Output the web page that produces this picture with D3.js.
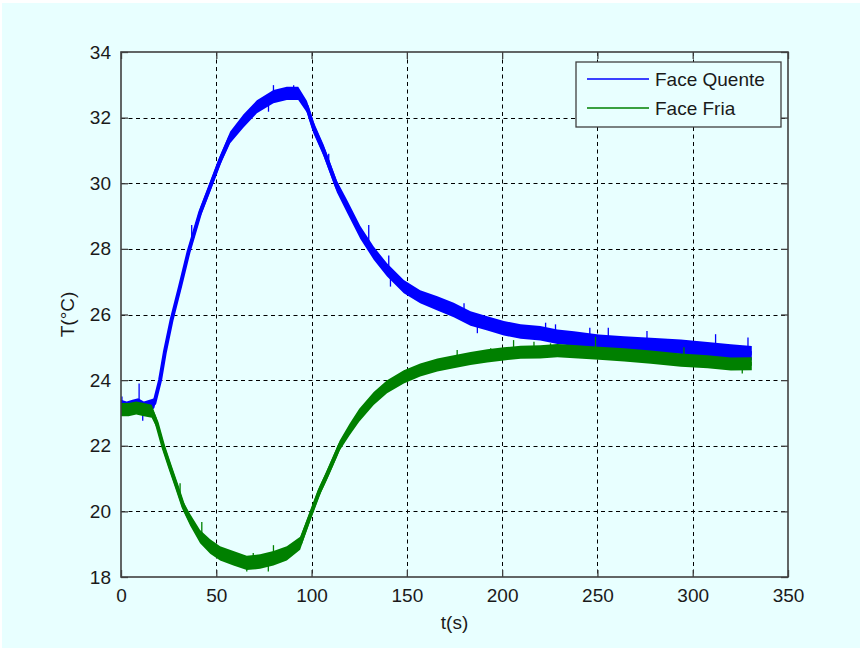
<!DOCTYPE html>
<html>
<head>
<meta charset="utf-8">
<script src="https://cdn.jsdelivr.net/npm/d3@7"></script>
<style>
  html, body { margin: 0; padding: 0; background: #ffffff; }
  svg { display: block; }
  text { font-family: "Liberation Sans", Arial, sans-serif; fill: #1a1a1a; }
</style>
</head>
<body>
<script>
// ---------- data ----------
const xTicks = [0, 50, 100, 150, 200, 250, 300, 350];
const yTicks = [18, 20, 22, 24, 26, 28, 30, 32, 34];
const seriesNames = ["Face Quente", "Face Fria"];

// Face Quente (blue): time (s), temperature (°C), half-width of noise band (°C)
const timeQ = [0, 3, 6, 9, 12, 15, 17.5, 20.5, 23, 26.6, 31, 35.4, 41.5, 46.8, 52, 57.3, 64.3, 71.3, 80, 87, 93, 97.6, 101, 106.3, 113.3, 118.6, 125.6, 132.6, 139.6, 148.4, 157, 166, 174.6, 183.4, 192.2, 200.9, 209.7, 220, 229, 237.7, 250.8, 264, 278, 293.8, 307.8, 320, 331];
const quente = [23.2, 23.15, 23.2, 23.25, 23.15, 23.2, 23.3, 24.0, 24.85, 25.85, 26.85, 27.9, 29.1, 29.9, 30.7, 31.4, 31.9, 32.33, 32.64, 32.74, 32.74, 32.33, 31.7, 31.0, 29.9, 29.3, 28.5, 27.87, 27.36, 26.85, 26.54, 26.34, 26.14, 25.88, 25.73, 25.58, 25.48, 25.43, 25.32, 25.27, 25.17, 25.12, 25.07, 25.02, 24.94, 24.87, 24.82];
const noiseQ = [0.2, 0.2, 0.2, 0.2, 0.2, 0.2, 0.15, 0.15, 0.15, 0.15, 0.15, 0.15, 0.15, 0.15, 0.15, 0.18, 0.2, 0.2, 0.2, 0.2, 0.2, 0.18, 0.18, 0.18, 0.18, 0.2, 0.2, 0.2, 0.2, 0.2, 0.2, 0.22, 0.22, 0.22, 0.22, 0.22, 0.22, 0.22, 0.22, 0.22, 0.22, 0.22, 0.22, 0.22, 0.22, 0.22, 0.22];
// visible spikes of the blue trace: time, peak value
const spikeQt = [0.5, 9.5, 11.4, 37.1, 77.4, 80, 90.6, 109, 130, 140.5, 141.4, 180, 187, 222.8, 228, 246, 255.7, 276, 312, 329];
const spikeQv = [23.5, 23.9, 22.76, 28.73, 32.18, 32.99, 32.99, 30.9, 28.73, 27.8, 26.85, 26.34, 25.43, 25.75, 25.7, 25.6, 25.6, 25.5, 25.4, 25.3];

// Face Fria (green)
const timeF = [0, 4, 8, 12, 16.1, 18.7, 22.2, 25.7, 29.3, 32.8, 36.3, 41.5, 46.8, 52, 59, 66, 73, 80, 87, 94, 99.5, 104, 108, 112.5, 114.7, 120, 125, 132.6, 139.6, 148.4, 157, 166, 174.6, 183.4, 192.2, 200.9, 209.7, 220, 229, 237.7, 250.8, 264, 278, 293.8, 307.8, 320, 331];
const fria = [23.1, 23.1, 23.15, 23.1, 23.05, 22.7, 21.97, 21.36, 20.75, 20.14, 19.74, 19.23, 18.93, 18.72, 18.57, 18.43, 18.47, 18.57, 18.72, 19.03, 19.9, 20.6, 21.1, 21.7, 22.0, 22.5, 22.93, 23.44, 23.8, 24.1, 24.31, 24.46, 24.56, 24.66, 24.74, 24.8, 24.85, 24.86, 24.9, 24.87, 24.82, 24.77, 24.7, 24.61, 24.56, 24.49, 24.5];
const noiseF = [0.2, 0.2, 0.2, 0.2, 0.2, 0.15, 0.15, 0.15, 0.15, 0.15, 0.18, 0.2, 0.22, 0.22, 0.22, 0.22, 0.22, 0.22, 0.22, 0.2, 0.15, 0.15, 0.15, 0.15, 0.15, 0.18, 0.2, 0.2, 0.2, 0.2, 0.2, 0.2, 0.2, 0.2, 0.2, 0.2, 0.2, 0.2, 0.2, 0.2, 0.2, 0.2, 0.2, 0.2, 0.2, 0.2, 0.2];
const spikeFt = [31, 42.4, 66, 69.4, 77.3, 80, 176.4, 194, 206, 216.7, 225.4, 249, 295.4, 326];
const spikeFv = [20.86, 19.68, 18.17, 18.73, 18.17, 18.97, 24.92, 24.97, 25.22, 25.17, 25.12, 25.32, 25.0, 24.2];

// ---------- layout ----------
const W = 860, H = 648;
const plot = { left: 121, right: 788, top: 52, bottom: 577 };
const colQ = "#0000ff", colF = "#008000";
const axisCol = "#404040";

const svg = d3.select("body").append("svg").attr("width", W).attr("height", H);
svg.append("rect").attr("x", 2).attr("y", 3).attr("width", W - 2).attr("height", H - 3).attr("fill", "#e8ffff");

const x = d3.scaleLinear().domain([0, 350]).range([plot.left, plot.right]);
const y = d3.scaleLinear().domain([18, 34]).range([plot.bottom, plot.top]);

// grid
const grid = svg.append("g").attr("stroke", "#000").attr("stroke-width", 1).attr("stroke-dasharray", "4,3.5");
grid.selectAll(".gx").data(xTicks.slice(1, -1)).enter().append("line")
  .attr("x1", d => Math.round(x(d)) + 0.5).attr("x2", d => Math.round(x(d)) + 0.5)
  .attr("y1", plot.top).attr("y2", plot.bottom);
grid.selectAll(".gy").data(yTicks.slice(1, -1)).enter().append("line")
  .attr("y1", d => Math.round(y(d)) + 0.5).attr("y2", d => Math.round(y(d)) + 0.5)
  .attr("x1", plot.left).attr("x2", plot.right);

// clip
svg.append("clipPath").attr("id", "clip").append("rect")
  .attr("x", plot.left).attr("y", plot.top).attr("width", plot.right - plot.left).attr("height", plot.bottom - plot.top);
const dataG = svg.append("g").attr("clip-path", "url(#clip)");

function drawSeries(times, vals, noise, sT, sV, color) {
  const pts = times.map((t, i) => ({ t, v: vals[i], n: noise[i] }));
  const area = d3.area().x(d => x(d.t)).y0(d => y(d.v - d.n)).y1(d => y(d.v + d.n));
  dataG.append("path").datum(pts).attr("d", area).attr("fill", color);
  const line = d3.line().x(d => x(d.t)).y(d => y(d.v));
  dataG.append("path").datum(pts).attr("d", line).attr("fill", "none").attr("stroke", color)
    .attr("stroke-width", 4).attr("stroke-linejoin", "round");
  const interp = d3.scaleLinear().domain(times).range(vals);
  dataG.selectAll(null).data(sT.map((t, i) => ({ t, v: sV[i] }))).enter().append("line")
    .attr("x1", d => x(d.t)).attr("x2", d => x(d.t))
    .attr("y1", d => y(interp(d.t))).attr("y2", d => y(d.v))
    .attr("stroke", color).attr("stroke-width", 1.3);
}
drawSeries(timeQ, quente, noiseQ, spikeQt, spikeQv, colQ);
drawSeries(timeF, fria, noiseF, spikeFt, spikeFv, colF);

// axes box
svg.append("rect").attr("x", plot.left).attr("y", plot.top)
  .attr("width", plot.right - plot.left).attr("height", plot.bottom - plot.top)
  .attr("fill", "none").attr("stroke", axisCol).attr("stroke-width", 1.6);

// ticks via d3 axes (inward)
const tickLen = 7;
const xAxisB = d3.axisBottom(x).tickValues(xTicks).tickSize(-tickLen).tickPadding(12).tickFormat(d3.format("d"));
const xAxisT = d3.axisTop(x).tickValues(xTicks).tickSize(-tickLen).tickFormat("");
const yAxisL = d3.axisLeft(y).tickValues(yTicks).tickSize(-tickLen).tickPadding(10).tickFormat(d3.format("d"));
const yAxisR = d3.axisRight(y).tickValues(yTicks).tickSize(-tickLen).tickFormat("");

function styleAxis(g) {
  g.select(".domain").remove();
  g.selectAll(".tick line").attr("stroke", axisCol).attr("stroke-width", 1.3);
  g.selectAll(".tick text").style("font-size", "19px").style("font-family", "'Liberation Sans', Arial, sans-serif").attr("fill", "#1a1a1a");
}
svg.append("g").attr("transform", `translate(0,${plot.bottom})`).call(xAxisB).call(styleAxis);
svg.append("g").attr("transform", `translate(0,${plot.top})`).call(xAxisT).call(styleAxis);
svg.append("g").attr("transform", `translate(${plot.left},0)`).call(yAxisL).call(styleAxis);
svg.append("g").attr("transform", `translate(${plot.right},0)`).call(yAxisR).call(styleAxis);

// axis labels
svg.append("text").attr("x", (plot.left + plot.right) / 2).attr("y", 629)
  .attr("text-anchor", "middle").style("font-size", "19px").text("t(s)");
svg.append("text").attr("transform", `translate(74,${(plot.top + plot.bottom) / 2}) rotate(-90)`)
  .attr("text-anchor", "middle").style("font-size", "19px").text("T(°C)");

// legend
const lg = svg.append("g");
lg.append("rect").attr("x", 576).attr("y", 62).attr("width", 205).attr("height", 65)
  .attr("fill", "#e8ffff").attr("stroke", axisCol).attr("stroke-width", 1.3);
const legendItems = [{ name: seriesNames[0], color: colQ, yy: 79 }, { name: seriesNames[1], color: colF, yy: 108 }];
legendItems.forEach(it => {
  lg.append("line").attr("x1", 587).attr("x2", 649).attr("y1", it.yy).attr("y2", it.yy)
    .attr("stroke", it.color).attr("stroke-width", 1.5);
  lg.append("text").attr("x", 655).attr("y", it.yy + 7).style("font-size", "19px").text(it.name);
});
</script>
</body>
</html>
